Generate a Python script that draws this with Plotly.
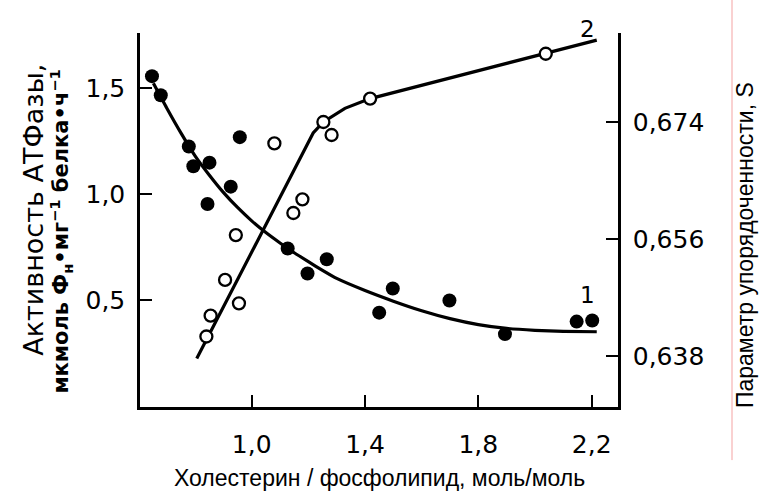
import plotly.graph_objects as go

# ATPase activity (curve 1, filled circles, left axis)
chol_atp = [0.648, 0.679, 0.778, 0.794, 0.851, 0.844, 0.926, 0.958, 1.127,
            1.197, 1.265, 1.450, 1.498, 1.698, 1.894, 2.147, 2.202]
atpase = [1.555, 1.465, 1.224, 1.131, 1.148, 0.953, 1.035, 1.268, 0.744,
          0.626, 0.693, 0.442, 0.556, 0.499, 0.341, 0.400, 0.405]

# Order parameter S (curve 2, open circles, right axis)
chol_s = [0.840, 0.855, 0.906, 0.955, 0.944, 1.080, 1.147, 1.179, 1.253,
          1.282, 1.418, 2.038]
order_s = [0.6410, 0.6442, 0.6497, 0.6461, 0.6566, 0.6707, 0.6600, 0.6621,
           0.6740, 0.6720, 0.6776, 0.6845]

# Smoothed trend for curve 1
fit1_x = [0.653, 0.70, 0.75, 0.80, 0.85, 0.90, 0.95, 1.00, 1.05, 1.10,
          1.15, 1.20, 1.25, 1.30, 1.40, 1.50, 1.60, 1.70, 1.80, 1.90,
          2.00, 2.10, 2.218]
fit1_y = [1.521, 1.405, 1.288, 1.180, 1.090, 1.008, 0.937, 0.874, 0.819,
          0.770, 0.724, 0.682, 0.641, 0.603, 0.546, 0.496, 0.451, 0.414,
          0.386, 0.368, 0.359, 0.354, 0.352]

# Broken-line trend for curve 2
fit2_x = [0.806, 1.217, 1.253, 1.329, 1.418, 2.218]
fit2_y = [0.6376, 0.6723, 0.6740, 0.6761, 0.6776, 0.6866]

x_ticks = [1.0, 1.4, 1.8, 2.2]
x_labels = ["1,0", "1,4", "1,8", "2,2"]
y_ticks = [0.5, 1.0, 1.5]
y_labels = ["0,5", "1,0", "1,5"]
s_ticks = [0.638, 0.656, 0.674]
s_labels = ["0,638", "0,656", "0,674"]

TICK_FONT = dict(family="DejaVu Sans", size=25, color="black")
TITLE_FONT = dict(family="Liberation Sans", size=23, color="black")

fig = go.Figure()
fig.add_trace(go.Scatter(
    x=fit1_x, y=fit1_y, mode="lines", yaxis="y",
    line=dict(color="black", width=3.2, shape="spline", smoothing=0.5),
    hoverinfo="skip"))
fig.add_trace(go.Scatter(
    x=chol_atp, y=atpase, mode="markers", yaxis="y",
    marker=dict(size=14, color="black", line=dict(width=0))))
fig.add_trace(go.Scatter(
    x=fit2_x, y=fit2_y, mode="lines", yaxis="y2",
    line=dict(color="black", width=3.2), hoverinfo="skip"))
fig.add_trace(go.Scatter(
    x=chol_s, y=order_s, mode="markers", yaxis="y2",
    marker=dict(size=12, color="white", line=dict(color="black", width=2.3))))

axis_common = dict(
    showline=True, linecolor="black", linewidth=2.5,
    ticks="inside", ticklen=12, tickwidth=2, tickcolor="black",
    showgrid=False, zeroline=False, tickfont=TICK_FONT,
)

fig.update_layout(
    width=763, height=501,
    margin=dict(l=140, r=145, t=33, b=94),
    paper_bgcolor="white", plot_bgcolor="white",
    showlegend=False,
    xaxis=dict(range=[0.6057, 2.293], tickvals=x_ticks, ticktext=x_labels,
               ticklabelstandoff=13, **axis_common),
    yaxis=dict(range=[-0.002, 1.758], tickvals=y_ticks, ticktext=y_labels,
               ticklabelstandoff=7, **axis_common),
    yaxis2=dict(range=[0.63015, 0.68769], tickvals=s_ticks, ticktext=s_labels,
                overlaying="y", side="right", ticklabelstandoff=7,
                **axis_common),
    annotations=[
        dict(text="Холестерин / фосфолипид, моль/моль", xref="paper",
             yref="paper", x=0.501, y=-0.19, showarrow=False,
             xanchor="center", yanchor="middle", font=TITLE_FONT),
        dict(text="Параметр упорядоченности, S", xref="paper", yref="paper",
             x=1.2657, y=0.433, showarrow=False, textangle=-90,
             xanchor="center", yanchor="middle", font=TITLE_FONT),
        dict(text="Активность АТФазы,", xref="paper", yref="paper",
             x=-0.222, y=0.527, showarrow=False, textangle=-90,
             xanchor="center", yanchor="middle",
             font=dict(family="DejaVu Sans", size=27, color="black")),
        dict(text="<b>мкмоль Ф<sub>н</sub>•мг<sup>−1</sup> белка•ч<sup>−1</sup></b>",
             xref="paper", yref="paper",
             x=-0.166, y=0.468, showarrow=False, textangle=-90,
             xanchor="center", yanchor="middle",
             font=dict(family="DejaVu Sans", size=21, color="black")),
        dict(text="1", x=2.184, y=0.525, xref="x", yref="y", showarrow=False,
             font=dict(family="DejaVu Sans", size=23, color="black")),
        dict(text="2", x=0.956, y=1.05, xref="paper", yref="paper",
             showarrow=False,
             font=dict(family="DejaVu Sans", size=23, color="black")),
    ],
    shapes=[
        dict(type="line", xref="paper", yref="paper",
             x0=1.2385, x1=1.2385, y0=1.09, y1=-0.142,
             line=dict(color="#f4a3a3", width=1)),
    ],
)

fig.write_html("out.html")
